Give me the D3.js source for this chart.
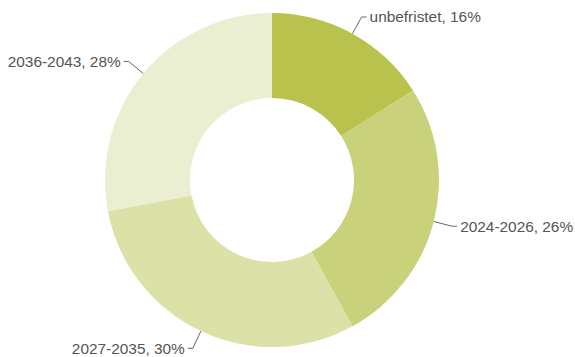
<!DOCTYPE html>
<html>
<head>
<meta charset="utf-8">
<script src="https://cdn.jsdelivr.net/npm/d3@7"></script>
<style>
  html, body { margin: 0; padding: 0; background: #fff; }
  svg { display: block; }
</style>
</head>
<body>
<svg id="chart" width="575" height="357"></svg>
<script>
// Laufzeiten der Verträge (Anteil in %)
const categories = ["unbefristet", "2024-2026", "2027-2035", "2036-2043"];
const shares = [16, 26, 30, 28];
const colors = ["#b8c24c", "#c9d27b", "#dbe1a7", "#ebefd2"];

const width = 575, height = 357;
const cx = 272, cy = 180;
const outerR = 167, innerR = 82;

const svg = d3.select("#chart");
const g = svg.append("g").attr("transform", `translate(${cx},${cy})`);

const data = categories.map((c, i) => ({ label: c, value: shares[i], color: colors[i] }));

const pie = d3.pie().value(d => d.value).sort(null);
const arc = d3.arc().innerRadius(innerR).outerRadius(outerR);
const arcs = pie(data);

g.selectAll("path.slice")
  .data(arcs)
  .join("path")
  .attr("class", "slice")
  .attr("d", arc)
  .attr("fill", d => d.data.color);

// Beschriftungen mit Führungslinien
const lineOut = 19, elbow = 5, gap = 3;
arcs.forEach(a => {
  const mid = (a.startAngle + a.endAngle) / 2;
  const sx = Math.sin(mid), sy = -Math.cos(mid);
  const side = sx >= 0 ? 1 : -1;
  const p1 = [outerR * sx, outerR * sy];
  const p2 = [(outerR + lineOut) * sx, (outerR + lineOut) * sy];
  const p3 = [p2[0] + side * elbow, p2[1]];
  g.append("polyline")
    .attr("points", [p1, p2, p3].map(p => p.join(",")).join(" "))
    .attr("fill", "none")
    .attr("stroke", "#666")
    .attr("stroke-width", 1);
  g.append("text")
    .attr("x", p3[0] + side * gap)
    .attr("y", p3[1])
    .attr("dy", "0.35em")
    .attr("text-anchor", side > 0 ? "start" : "end")
    .attr("font-family", "'Liberation Sans', Arial, sans-serif")
    .attr("font-size", "15.4px")
    .attr("fill", "#555")
    .text(`${a.data.label}, ${a.data.value}%`);
});
</script>
</body>
</html>
